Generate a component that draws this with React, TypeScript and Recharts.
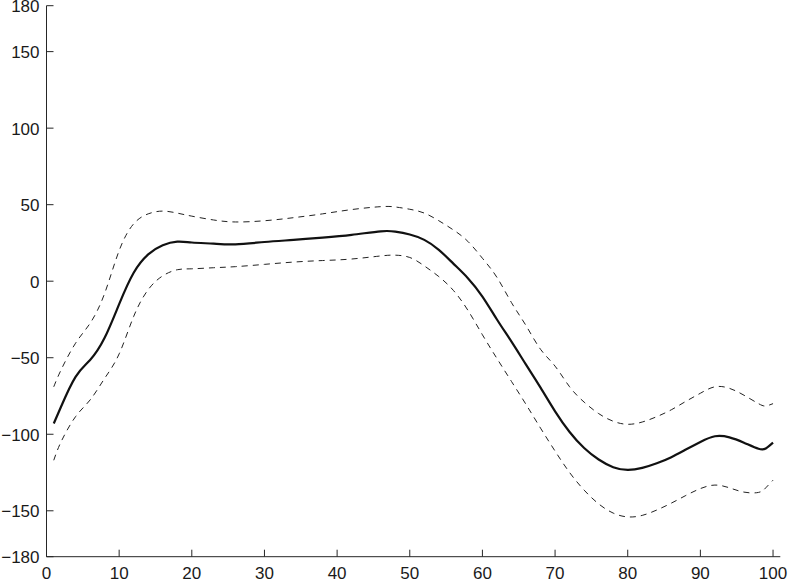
import { LineChart, Line, XAxis, YAxis } from 'recharts'

// sample positions (percent of cycle) and the three curves
const xs = [1, 2, 4, 6, 8, 10, 12, 14, 16, 18, 20, 23, 26, 30, 34, 38, 42, 46, 48, 50, 52, 54, 56, 58, 60, 62, 64, 66, 68, 70, 72, 74, 76, 78, 80, 82, 84, 86, 88, 90, 92, 94, 96, 98, 99, 100]

const meanVals = [-93, -82, -62.5, -51.5, -37, -15, 5.5, 17.5, 23.5, 25.8, 25.3, 24.5, 24.1, 25.6, 27, 28.5, 30.3, 32.6, 32.4, 30.5, 27, 20.5, 11.5, 2, -10, -25, -39.5, -54.5, -69.5, -85, -98.5, -109, -116.5, -121.5, -123.3, -122, -119, -115, -110, -105, -101.3, -102, -105.5, -109.5, -109.3, -105.5]

const upperVals = [-69, -58, -40.5, -27.5, -8, 20, 37.5, 44, 45.8, 44.5, 42.5, 40, 38.7, 39.5, 41.5, 44, 46.8, 48.7, 48.5, 47, 44.5, 39.5, 33.5, 26, 15, 2.5, -14, -29, -44.5, -55.5, -69, -79, -86.5, -91.5, -93.5, -92, -88.5, -84, -78.5, -73.2, -69, -70, -74.5, -80, -81.5, -80]

const lowerVals = [-117, -105, -88.5, -77.6, -63.5, -47.5, -23, -5.5, 3.5, 7.5, 8.1, 8.8, 9.5, 11, 12.5, 13.5, 14.5, 16.5, 17, 15.5, 10, 3, -6, -19, -35, -50.5, -65.5, -80.5, -96, -111, -125, -136.5, -145.5, -151.5, -154, -153, -149.5, -145, -140, -135.5, -133.2, -135, -137.8, -138, -135, -130]

const xTicks = [0, 10, 20, 30, 40, 50, 60, 70, 80, 90, 100]
const yTicks = [-180, -150, -100, -50, 0, 50, 100, 150, 180]

const data = xs.map((x, i) => ({ x, mean: meanVals[i], upper: upperVals[i], lower: lowerVals[i] }))

const axisColor = '#262626'
const font = '"Liberation Sans", Arial, Helvetica, sans-serif'
const TICK = 7

const fmt = (v: number) => (v < 0 ? '\u2212' + Math.abs(v) : String(v))

// ticks point into the plot box, like MATLAB
function BottomTick(props: any) {
  const { x, y, payload } = props
  return (
    <g>
      <line x1={x} x2={x} y1={y} y2={y - TICK} stroke={axisColor} />
      <text x={x} y={y + 22.5} textAnchor='middle' fontSize={17} fontFamily={font} fill='#1a1a1a'>
        {fmt(payload.value)}
      </text>
    </g>
  )
}

function TopTick(props: any) {
  const { x, y } = props
  return <line x1={x} x2={x} y1={y} y2={y + TICK} stroke={axisColor} />
}

function LeftTick(props: any) {
  const { x, y, payload } = props
  return (
    <g>
      <line x1={x} x2={x + TICK} y1={y} y2={y} stroke={axisColor} />
      <text x={x - 7} y={y + 6.5} textAnchor='end' fontSize={17} fontFamily={font} fill='#1a1a1a'>
        {fmt(payload.value)}
      </text>
    </g>
  )
}

function RightTick(props: any) {
  const { x, y } = props
  return <line x1={x} x2={x - TICK} y1={y} y2={y} stroke={axisColor} />
}

export default function App() {
  return (
    <div style={{ position: 'absolute', left: 0, top: 0, background: '#fff' }}>
      <LineChart width={788} height={580} data={data} margin={{ top: 5.7, right: 7.7, bottom: 0, left: 0 }}>
        <XAxis
          dataKey='x'
          type='number'
          domain={[0, 101]}
          ticks={xTicks}
          interval={0}
          height={23.3}
          tickSize={0}
          tickMargin={0}
          tickLine={false}
          axisLine={{ stroke: axisColor }}
          tick={<BottomTick />}
        />
        <XAxis
          xAxisId='top'
          orientation='top'
          dataKey='x'
          type='number'
          domain={[0, 101]}
          ticks={xTicks}
          interval={0}
          height={0}
          tickSize={0}
          tickMargin={0}
          tickLine={false}
          axisLine={{ stroke: axisColor }}
          tick={<TopTick />}
        />
        <YAxis
          type='number'
          domain={[-180, 180]}
          ticks={yTicks}
          interval={0}
          width={46.5}
          tickSize={0}
          tickMargin={0}
          tickLine={false}
          axisLine={{ stroke: axisColor }}
          tick={<LeftTick />}
        />
        <YAxis
          yAxisId='right'
          orientation='right'
          type='number'
          domain={[-180, 180]}
          ticks={yTicks}
          interval={0}
          width={0}
          tickSize={0}
          tickMargin={0}
          tickLine={false}
          axisLine={{ stroke: axisColor }}
          tick={<RightTick />}
        />
        <Line type='natural' dataKey='upper' stroke='#222' strokeWidth={1} strokeDasharray='6 5' dot={false} isAnimationActive={false} />
        <Line type='natural' dataKey='lower' stroke='#222' strokeWidth={1} strokeDasharray='6 5' dot={false} isAnimationActive={false} />
        <Line type='natural' dataKey='mean' stroke='#111' strokeWidth={2.2} dot={false} isAnimationActive={false} />
      </LineChart>
    </div>
  )
}
